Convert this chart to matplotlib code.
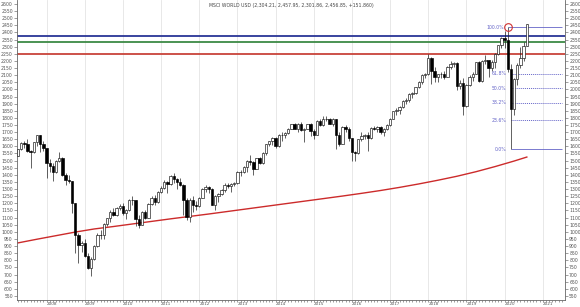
import numpy as np
import matplotlib
matplotlib.use("Agg")
import matplotlib.pyplot as plt

# monthly OHLC, Apr 2007 .. Aug 2020
opens = [1535, 1580, 1622, 1614, 1570, 1558, 1628, 1680, 1615,
         1589, 1480, 1460, 1420, 1500, 1520, 1400, 1365, 1355, 1200, 975, 910,
         920, 830, 745, 810, 900, 980, 975, 1055, 1095, 1140, 1120, 1165,
         1180, 1135, 1150, 1225, 1220, 1090, 1050, 1140, 1100, 1195, 1240, 1210,
         1280, 1310, 1350, 1335, 1395, 1370, 1350, 1330, 1225, 1105, 1220, 1190,
         1180, 1240, 1300, 1315, 1300, 1190, 1250, 1265, 1295, 1330, 1320, 1335,
         1340, 1420, 1420, 1455, 1500, 1490, 1440, 1515, 1480, 1555, 1615, 1635,
         1660, 1600, 1680, 1680, 1695, 1725, 1755, 1725, 1760, 1715, 1725, 1755,
         1710, 1680, 1780, 1750, 1790, 1795, 1760, 1790, 1680, 1620, 1735, 1725,
         1660, 1560, 1550, 1650, 1675, 1680, 1660, 1730, 1725, 1735, 1700, 1725,
         1750, 1795, 1845, 1855, 1880, 1920, 1925, 1970, 1975, 2015, 2055, 2100,
         2105, 2220, 2130, 2085, 2105, 2105, 2090, 2160, 2180, 2185, 2025, 2045,
         1885, 2030, 2090, 2110, 2190, 2060, 2200, 2205, 2150, 2195, 2250, 2310,
         2360, 2345, 2145, 1865, 2070, 2170, 2220, 2304.21]
closes = [1580, 1622, 1614, 1570, 1558, 1628, 1680, 1615, 1589,
          1480, 1460, 1420, 1500, 1520, 1400, 1365, 1355, 1200, 975, 910, 920,
          830, 745, 810, 900, 980, 975, 1055, 1095, 1140, 1120, 1165, 1180,
          1135, 1150, 1225, 1220, 1090, 1050, 1140, 1100, 1195, 1240, 1210, 1280,
          1310, 1350, 1335, 1395, 1370, 1350, 1330, 1225, 1105, 1220, 1190, 1180,
          1240, 1300, 1315, 1300, 1190, 1250, 1265, 1295, 1330, 1320, 1335, 1340,
          1420, 1420, 1455, 1500, 1490, 1440, 1515, 1480, 1555, 1615, 1635, 1660,
          1600, 1680, 1680, 1695, 1725, 1755, 1725, 1760, 1715, 1725, 1755, 1710,
          1680, 1780, 1750, 1790, 1795, 1760, 1790, 1680, 1620, 1735, 1725, 1660,
          1560, 1550, 1650, 1675, 1680, 1660, 1730, 1725, 1735, 1700, 1725, 1750,
          1795, 1845, 1855, 1880, 1920, 1925, 1970, 1975, 2015, 2055, 2100, 2105,
          2220, 2130, 2085, 2105, 2105, 2090, 2160, 2180, 2185, 2025, 2045, 1885,
          2030, 2090, 2110, 2190, 2060, 2200, 2205, 2150, 2195, 2250, 2310, 2360,
          2345, 2145, 1865, 2070, 2170, 2220, 2304, 2456.85]
highs = [1585, 1630, 1640, 1650, 1575, 1632, 1682, 1680, 1640,
         1590, 1510, 1480, 1505, 1560, 1525, 1410, 1400, 1360, 1205, 990, 935,
         950, 850, 820, 905, 990, 1010, 1060, 1100, 1150, 1170, 1175, 1195,
         1200, 1160, 1230, 1250, 1225, 1120, 1145, 1155, 1200, 1250, 1260, 1285,
         1320, 1365, 1360, 1400, 1410, 1375, 1375, 1335, 1235, 1240, 1250, 1215,
         1245, 1310, 1330, 1320, 1305, 1255, 1270, 1300, 1345, 1345, 1340, 1350,
         1425, 1435, 1460, 1505, 1540, 1495, 1520, 1525, 1560, 1620, 1640, 1665,
         1665, 1685, 1700, 1700, 1730, 1760, 1765, 1765, 1770, 1730, 1760, 1765,
         1720, 1785, 1790, 1810, 1810, 1800, 1800, 1795, 1700, 1740, 1750, 1735,
         1662, 1570, 1655, 1700, 1690, 1700, 1735, 1740, 1745, 1740, 1730, 1760,
         1800, 1850, 1870, 1885, 1925, 1940, 1975, 1985, 2020, 2060, 2105, 2115,
         2250, 2230, 2160, 2110, 2125, 2130, 2165, 2200, 2195, 2190, 2065, 2080,
         2040, 2100, 2125, 2195, 2200, 2210, 2240, 2210, 2210, 2255, 2315, 2365,
         2410, 2435, 2180, 2080, 2185, 2295, 2335, 2457.95]
lows = [1530, 1578, 1590, 1560, 1450, 1550, 1600, 1560, 1570,
        1380, 1420, 1360, 1415, 1490, 1395, 1330, 1340, 1130, 850, 780, 860,
        820, 740, 690, 800, 890, 950, 950, 1040, 1070, 1110, 1110, 1150,
        1120, 1090, 1148, 1190, 1040, 1030, 1045, 1090, 1095, 1190, 1190, 1205,
        1275, 1300, 1270, 1330, 1340, 1300, 1320, 1120, 1080, 1070, 1140, 1150,
        1175, 1235, 1280, 1270, 1185, 1150, 1210, 1255, 1280, 1305, 1280, 1320,
        1338, 1390, 1410, 1420, 1470, 1400, 1438, 1475, 1478, 1540, 1600, 1610,
        1590, 1595, 1640, 1660, 1690, 1720, 1720, 1700, 1710, 1630, 1720, 1670,
        1650, 1678, 1740, 1745, 1775, 1755, 1740, 1580, 1600, 1615, 1700, 1640,
        1500, 1495, 1545, 1640, 1650, 1570, 1650, 1715, 1700, 1690, 1670, 1715,
        1745, 1790, 1820, 1830, 1870, 1900, 1915, 1940, 1968, 2010, 2040, 2080,
        2100, 2040, 2050, 2050, 2080, 2070, 2085, 2140, 2160, 1995, 2000, 1820,
        1875, 2025, 2060, 2105, 2055, 2050, 2180, 2090, 2130, 2150, 2245, 2290,
        2290, 2125, 1580, 1820, 2030, 2150, 2200, 2301.86]

# long moving average (red), read every 6 months
ma_idx = [0, 6, 12, 18, 24, 30, 36, 42, 48, 54, 60, 66, 72, 78, 84, 90, 96,
          102, 108, 114, 120, 126, 132, 138, 144, 150, 156, 160]
ma_val = [922, 948, 973, 998, 1020, 1037, 1055, 1073, 1091, 1108, 1125, 1143,
          1161, 1179, 1197, 1215, 1233, 1251, 1270, 1290, 1312, 1336, 1362,
          1390, 1422, 1458, 1497, 1525]

hlines = [2375, 2333, 2249]
hline_colors = ['#2a3596', '#3d8a45', '#c8433a']

fib_low, fib_high = 1580, 2435
fib_pcts = [100.0, 61.8, 50.0, 38.2, 23.6, 0.0]

years = [str(y) for y in range(2008, 2022)]
title = "MSCI WORLD USD (2,304.21, 2,457.95, 2,301.86, 2,456.85, +151.860)"

fig = plt.figure(figsize=(5.8, 3.07), dpi=100)
# axes: y=550 at ~296px, 2600 at ~4px
ax = fig.add_axes([17/580, 1-300/307, 548/580, 300/307])

x = np.arange(len(closes))
o = np.array(opens); c = np.array(closes)
h = np.array(highs); l = np.array(lows)
up = c >= o

# year grid
jan = np.arange(9, 9 + 12*len(years), 12)
for xx in jan:
    ax.axvline(xx, color='#e4e4e4', lw=0.6, zorder=0)

for yv, col in zip(hlines, hline_colors):
    ax.axhline(yv, color=col, lw=1.3, zorder=1)

ax.plot(ma_idx, ma_val, color='#cc2b2b', lw=1.0, zorder=2)

ax.vlines(x, l, h, color='#222222', lw=0.5, zorder=3)
ax.bar(x[up], (c-o)[up], bottom=o[up], width=0.75, color='white',
       edgecolor='#111111', linewidth=0.45, zorder=4)
ax.bar(x[~up], (o-c)[~up], bottom=c[~up], width=0.75, color='black',
       edgecolor='black', linewidth=0.45, zorder=4)

# fibonacci retracement
fc = '#6464c8'
i_hi = 154
for p in fib_pcts:
    lev = fib_low + (fib_high - fib_low) * p / 100
    if p in (100.0, 0.0):
        x0 = i_hi if p == 100.0 else i_hi + 1
        ax.hlines(lev, x0, 171, color=fc, lw=0.6, zorder=2)
    else:
        ax.hlines(lev, i_hi + 1, 171, color=fc, lw=0.7, ls=(0, (1, 1)), zorder=2)
    xt = i_hi - 1.3 if p == 100.0 else i_hi - 0.3
    ax.text(xt, lev, "%.1f%%" % p, color=fc, fontsize=3.3, ha='right',
            va='center', zorder=5)
ax.plot([i_hi], [fib_high], 'o', ms=5.5, mfc='none', mec='#d03030', mew=0.8,
        zorder=6)

ax.set_xlim(-0.3, 172)
ax.set_ylim(521, 2628)
ax.set_yticks(np.arange(550, 2601, 50))
ax.set_xticks(jan)
ax.set_xticklabels(years, ha='left')
ax.set_xticks(np.arange(0, 172), minor=True)
ax.tick_params(axis='y', labelsize=3.3, labelcolor='#555555', length=2,
               width=0.4, right=True, labelright=True, pad=1, color='#555555')
ax.tick_params(axis='x', which='both', labelsize=3.0, labelcolor='#555555',
               length=1.2, width=0.4, pad=0.3, color='#555555')
for s in ['left', 'right', 'bottom']:
    ax.spines[s].set_color('#666666')
    ax.spines[s].set_linewidth(0.6)
ax.spines['top'].set_visible(False)

fig.text(291/580, 1-5/307, title, fontsize=3.3, color='#444444',
         ha='center', va='center')

fig.savefig("out.png", dpi=100)
